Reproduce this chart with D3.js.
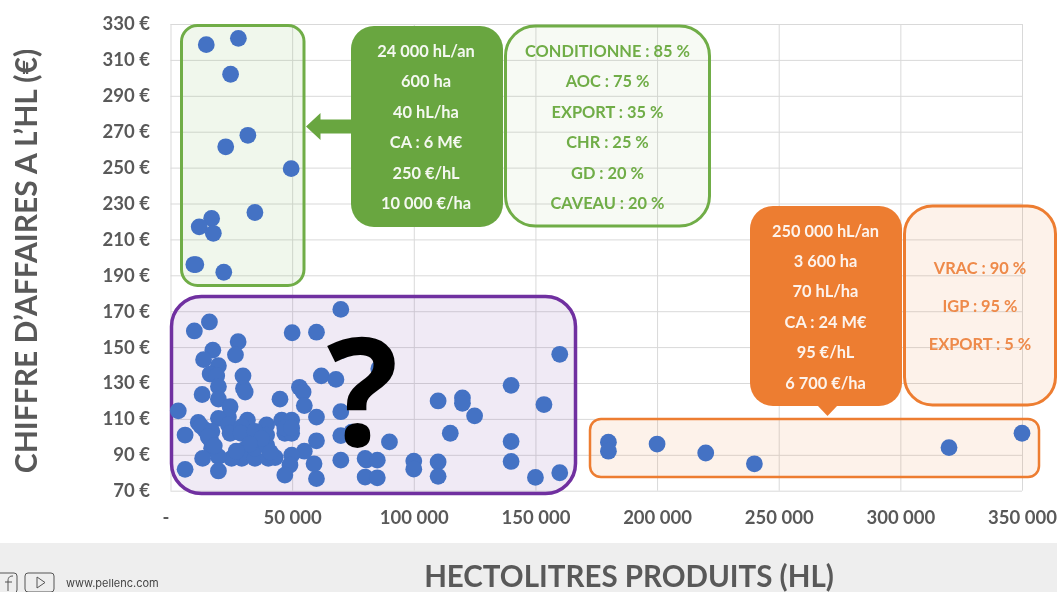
<!DOCTYPE html>
<html>
<head>
<meta charset="utf-8">
<script src="https://d3js.org/d3.v7.min.js"></script>
<style>
  html, body { margin: 0; padding: 0; background: #fff; }
  svg { display: block; font-family: Lato, "Open Sans", sans-serif; filter: blur(0.35px); }
  .axis path { display: none; }
  .axis text { font-size: 18.5px; font-weight: 700; fill: #595959; font-family: Lato, sans-serif; }
  .grid path { display: none; }
  .grid line { stroke: #d9d9d9; stroke-width: 1; }
</style>
</head>
<body>
<svg id="chart" width="1057" height="592"></svg>
<script>
// hectolitres / CA par hl
const greenHl = [14700, 27900, 24700, 31800, 22700, 49600, 34700, 16900, 11800, 17600, 9600, 10400, 21900];
const greenCa = [318.5, 322, 302, 268, 261.6, 249.4, 225, 221.7, 217, 213.4, 196, 196, 191.7];

const orangeHl = [180000, 180000, 200000, 220000, 240000, 320000, 350000];
const orangeCa = [97, 92, 96, 91, 85, 94, 102];

const purpleHl = [
  70000, 60000, 70000, 160000, 62000, 68000, 85600, 53000, 54500, 55000, 60000, 70000, 140000, 110000,
  120000, 120000, 125000, 153500, 115000, 140000, 140000, 90000, 70000, 74500, 60000, 70000, 80000, 80500,
  85000, 100000, 100000, 110000, 110000, 80000, 85000, 60000, 150000, 160000, 59000, 55000,
  50000, 45000,
  16000, 9800, 27800, 26700, 17400, 13600, 19700, 16300, 19000, 29800, 30000, 30700, 19700, 19700, 13000,
  3200, 24500, 23800, 19700, 31600, 11400, 14200, 16500, 16900, 6000, 23800, 24500, 29300, 29000, 39500,
  39500, 34700, 45700, 49800, 47000, 49800, 47000, 49800, 30000, 29300, 34700, 40200, 43000, 25100, 19700,
  13200, 6000, 19700, 49800, 49100, 47000, 34700, 39500, 41000, 12500, 17000, 15500, 18000,
  34700, 37500, 32500, 27000
];
const purpleCa = [
  171, 158.3, 148, 146, 134, 132, 138, 127.6, 125, 117.4, 111, 114, 128.7, 120,
  121.7, 118.7, 111.7, 118, 102, 97.4, 86.3, 97.2, 100.7, 102.6, 97.8, 87, 88, 87,
  87, 86.5, 82, 86, 78, 77.6, 77.2, 76.7, 77.4, 80, 85, 92,
  158, 121,
  164, 159, 153, 145.7, 148.3, 143, 139.6, 135, 134, 134, 127, 125, 128, 121, 123.6,
  114.5, 116.8, 111, 110.3, 109.3, 108, 103.8, 98.2, 93.6, 101, 106.6, 102, 105.6, 102, 106.6,
  101, 99, 109.3, 109.3, 102, 102, 105, 105, 92.6, 88, 88, 88, 88.5, 88, 89,
  88, 81.9, 81, 89.8, 84.3, 78.7, 93.6, 95.4, 91.5, 106, 103, 100, 95,
  103, 99, 96, 92
];

const xTicks = [0, 50000, 100000, 150000, 200000, 250000, 300000, 350000];
const yTicks = [70, 90, 110, 130, 150, 170, 190, 210, 230, 250, 270, 290, 310, 330];

const greenStats = ["24 000 hL/an", "600 ha", "40 hL/ha", "CA : 6 M€", "250 €/hL", "10 000 €/ha"];
const greenMix = ["CONDITIONNE : 85 %", "AOC : 75 %", "EXPORT : 35 %", "CHR : 25 %", "GD : 20 %", "CAVEAU : 20 %"];
const orangeStats = ["250 000 hL/an", "3 600 ha", "70 hL/ha", "CA : 24 M€", "95 €/hL", "6 700 €/ha"];
const orangeMix = ["VRAC : 90 %", "IGP : 95 %", "EXPORT : 5 %"];

const green = "#70ad47", greenDark = "#69a640", orange = "#ed7d31", purple = "#7030a0", blue = "#4472c4";

const svg = d3.select("#chart");

const x = d3.scaleLinear().domain([0, 350000]).range([170.5, 1022]);
const y = d3.scaleLinear().domain([70, 330]).range([490.7, 24]);

const fr = d3.formatLocale({ thousands: " ", grouping: [3], decimal: ",", currency: ["", " €"] });
const fmtX = d => d === 0 ? "-" : fr.format(",")(d);

// bandeau du bas
svg.append("rect").attr("x", 0).attr("y", 543).attr("width", 1057).attr("height", 49).attr("fill", "#eeeeee");

// grille
svg.append("g").attr("class", "grid")
  .attr("transform", `translate(0,${y(70)})`)
  .call(d3.axisBottom(x).tickValues(xTicks).tickSize(y(330) - y(70)).tickFormat(""));
svg.append("g").attr("class", "grid")
  .attr("transform", `translate(${x(0)},0)`)
  .call(d3.axisLeft(y).tickValues(yTicks).tickSize(x(0) - x(350000)).tickFormat(""));

// axes
svg.append("g").attr("class", "axis")
  .attr("transform", "translate(0,507)")
  .call(d3.axisBottom(x).tickValues(xTicks).tickSize(0).tickPadding(4).tickFormat(fmtX))
  .call(g => g.selectAll(".tick text").attr("dx", d => d === 0 ? -5 : 0));
svg.append("g").attr("class", "axis")
  .attr("transform", "translate(151,0)")
  .call(d3.axisLeft(y).tickValues(yTicks).tickSize(0).tickPadding(1).tickFormat(d => d + " €"));

// titres d'axes
svg.append("text")
  .attr("transform", "translate(37,261) rotate(-90)")
  .attr("text-anchor", "middle")
  .attr("font-size", 30).attr("font-weight", 700).attr("fill", "#595959")
  .text("CHIFFRE D’AFFAIRES A L’HL (€)");
svg.append("text")
  .attr("x", 629).attr("y", 587)
  .attr("text-anchor", "middle")
  .attr("font-size", 29.5).attr("font-weight", 700).attr("fill", "#595959")
  .text("HECTOLITRES PRODUITS (HL)");

function box(bx, by, w, h, r, stroke, sw, fill) {
  svg.append("rect")
    .attr("x", bx).attr("y", by).attr("width", w).attr("height", h).attr("rx", r)
    .attr("fill", fill).attr("stroke", stroke).attr("stroke-width", sw);
}

function lines(list, cx, first, step, color) {
  svg.append("g").selectAll("text").data(list).join("text")
    .attr("x", cx)
    .attr("y", (d, i) => first + i * step)
    .attr("text-anchor", "middle")
    .attr("font-size", 16.4).attr("font-weight", 700)
    .attr("fill", color)
    .text(d => d);
}

// encadres translucides
box(181.5, 25.5, 122.5, 260, 16, green, 3, "rgba(112,173,71,0.10)");
box(171.5, 296.5, 404, 197, 30, purple, 3.5, "rgba(112,48,160,0.10)");
box(590, 419, 449, 58, 11, orange, 2.5, "rgba(237,125,49,0.10)");
box(505.5, 26, 204, 200, 30, green, 3, "rgba(112,173,71,0.06)");
box(904.5, 206, 151, 199, 28, orange, 3, "rgba(237,125,49,0.10)");

// points
const points = [
  ...greenHl.map((d, i) => [d, greenCa[i]]),
  ...purpleHl.map((d, i) => [d, purpleCa[i]]),
  ...orangeHl.map((d, i) => [d, orangeCa[i]])
];
svg.append("g").selectAll("circle").data(points).join("circle")
  .attr("cx", d => x(d[0]))
  .attr("cy", d => y(d[1]))
  .attr("r", 8.4)
  .attr("fill", blue);

// bulle verte + fleche
svg.append("rect").attr("x", 351).attr("y", 26).attr("width", 152).attr("height", 201).attr("rx", 23).attr("fill", greenDark);
svg.append("path")
  .attr("d", "M352,119.5H320.5V113L306,126.5L320.5,140V133.500H352Z")
  .attr("fill", greenDark);
lines(greenStats, 426, 56.8, 30.5, "#f4f8f0");
lines(greenMix, 607.5, 56.8, 30.5, green);

// bulle orange + pointe
svg.append("rect").attr("x", 750).attr("y", 206).attr("width", 152).attr("height", 200).attr("rx", 23).attr("fill", orange);
svg.append("path").attr("d", "M817,405H838L827.5,416Z").attr("fill", orange);
lines(orangeStats, 825.5, 236.5, 30.4, "#fdf3ec");
lines(orangeMix, 980, 274, 38.2, "#ee8a4a");

// point d'interrogation
svg.append("text")
  .attr("x", 362.5).attr("y", 446)
  .attr("text-anchor", "middle")
  .attr("font-size", 150).attr("font-weight", 700)
  .attr("font-family", "'Open Sans', sans-serif")
  .attr("fill", "#000")
  .text("?");

// pied de page
const foot = svg.append("g").attr("fill", "none").attr("stroke", "#555").attr("stroke-width", 1);
foot.append("rect").attr("x", -6).attr("y", 573).attr("width", 23).attr("height", 20).attr("rx", 3);
foot.append("rect").attr("x", 25).attr("y", 573).attr("width", 29).attr("height", 19).attr("rx", 3);
foot.append("path").attr("d", "M37,577L45,582.500L37,588Z");
foot.append("path").attr("d", "M8,591V581C8,577 10,576 13,576M5,582H12");
svg.append("text").attr("x", 66).attr("y", 587).attr("font-size", 11).attr("fill", "#444")
  .attr("font-family", "Inter, sans-serif").text("www.pellenc.com");
</script>
</body>
</html>
